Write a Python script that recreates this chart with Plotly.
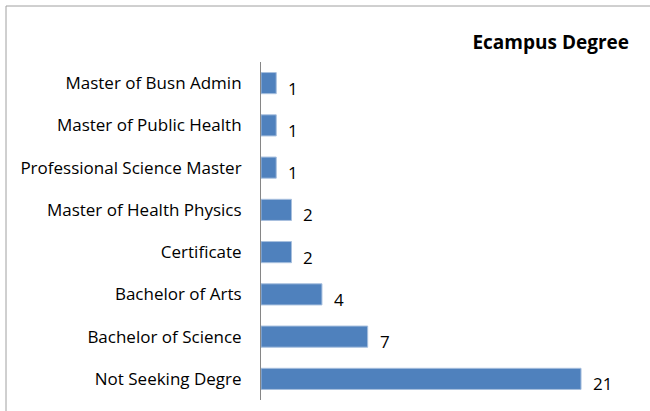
import plotly.graph_objects as go

categories = ["Not Seeking Degre", "Bachelor of Science", "Bachelor of Arts", "Certificate",
              "Master of Health Physics", "Professional Science Master",
              "Master of Public Health", "Master of Busn Admin"]
values = [21, 7, 4, 2, 2, 1, 1, 1]

W, H = 650, 411
L, R, T, B = 261, 642, 62, 400

fig = go.Figure()
fig.add_trace(go.Bar(
    x=values, y=categories, orientation="h",
    marker=dict(color="#4F81BD", line=dict(color="#A7BFDE", width=1)),
    hoverinfo="x+y",
))

for c, v in zip(categories, values):
    fig.add_annotation(x=v, y=c, text=str(v), showarrow=False,
                       xanchor="left", yanchor="middle", xshift=10, yshift=-5,
                       font=dict(family="Open Sans", size=17, color="#000000"))

pw, ph = R - L, B - T
fig.update_layout(
    width=W, height=H,
    margin=dict(l=L, r=W - R, t=T, b=H - B),
    paper_bgcolor="white", plot_bgcolor="white",
    bargap=0.5,
    showlegend=False,
    title=dict(text="<b>Ecampus Degree</b>", x=629 / W, xanchor="right",
               y=1 - 42 / H, yanchor="middle",
               font=dict(family="Open Sans", size=19, color="#000000")),
    xaxis=dict(range=[0, 25], visible=False, showgrid=False, zeroline=False),
    yaxis=dict(categoryorder="array", categoryarray=categories,
               showline=True, linecolor="#868686", linewidth=1,
               ticks="", ticklabelstandoff=15, showgrid=False,
               tickfont=dict(family="Open Sans", size=17, color="#000000")),
    shapes=[
        dict(type="line", xref="paper", yref="paper", x0=(6 - L) / pw,
             x1=(W - L) / pw, y0=(B - 6) / ph, y1=(B - 6) / ph,
             line=dict(color="#A0A0A0", width=1)),
        dict(type="line", xref="paper", yref="paper", x0=(6 - L) / pw, x1=(6 - L) / pw,
             y0=(B - H) / ph, y1=(B - 6) / ph,
             line=dict(color="#A0A0A0", width=1)),
    ],
)

fig.write_html("out.html", config={"displayModeBar": False},
               post_script="document.body.style.margin='0';")
